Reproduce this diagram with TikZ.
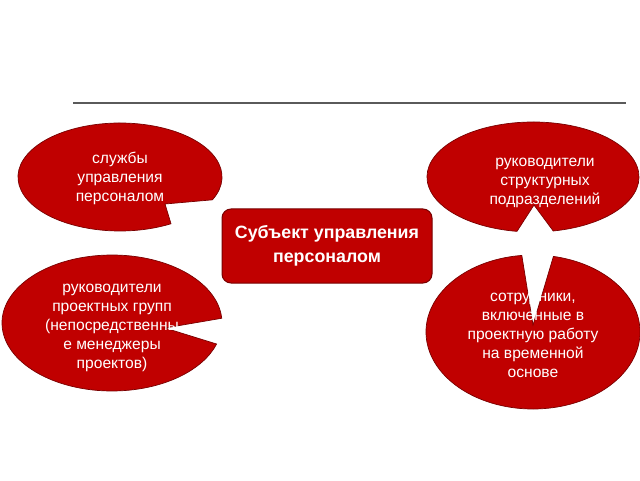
\documentclass[tikz,border=0pt]{standalone}
\usepackage{fontspec}
\setmainfont{Liberation Sans}
\definecolor{redfill}{RGB}{192,0,0}
\definecolor{redline}{RGB}{120,0,0}
\definecolor{rulegray}{RGB}{90,90,90}
\begin{document}
\begin{tikzpicture}[x=1pt,y=1pt,
  callout/.style={fill=redfill, draw=redline, line width=0.7pt},
  ctext/.style={align=center, text=white, font=\fontsize{15.6}{19}\selectfont, inner sep=0pt},
  centerbox/.style={fill=redfill, draw=redline, line width=1pt, rounded corners=9pt,
     minimum width=210pt, minimum height=74pt, align=center, text=white,
     font=\fontsize{17.8}{24.5}\selectfont\bfseries, inner sep=0pt}]
\useasboundingbox (0,0) rectangle (640,480);
% top rule
\coordinate (ruleL) at (73,377);
\coordinate (ruleR) at (626,377);
\draw[rulegray, line width=2.5pt] (ruleL) -- (ruleR);
% ellipse 1
\coordinate (tip1) at (165,276);
\draw[callout] ([shift={(-25:102pt and 54pt)}]120,303) arc[start angle=-25, end angle=300, x radius=102pt, y radius=54pt] -- (tip1) -- cycle;
\node[ctext] (e1) at (120,302) {службы\\управления\\персоналом};
% ellipse 2
\coordinate (tip2) at (165,152);
\draw[callout] ([shift={(4:110pt and 68pt)}]112,157) arc[start angle=4, end angle=342, x radius=110pt, y radius=68pt] -- (tip2) -- cycle;
\node[ctext] (e2) at (112,152) {руководители\\проектных групп\\(непосредственны\\е менеджеры\\проектов)};
% ellipse 3
\coordinate (tip3) at (534,275);
\draw[callout] ([shift={(281:106pt and 55pt)}]533,303) arc[start angle=281, end angle=621.3, x radius=106pt, y radius=55pt] -- (tip3) -- cycle;
\node[ctext] (e3) at (545,297) {руководители\\структурных\\подразделений};
% ellipse 4
\coordinate (tip4) at (533,155);
\draw[callout] ([shift={(96:107pt and 77pt)}]533,148) arc[start angle=96, end angle=439, x radius=107pt, y radius=77pt] -- (tip4) -- cycle;
\node[ctext] (e4) at (533,145) {сотрудники,\\включенные в\\проектную работу\\на временной\\основе};
% center box
\node[centerbox] (subj) at (327,234) {Субъект управления\\персоналом};
\end{tikzpicture}
\end{document}
